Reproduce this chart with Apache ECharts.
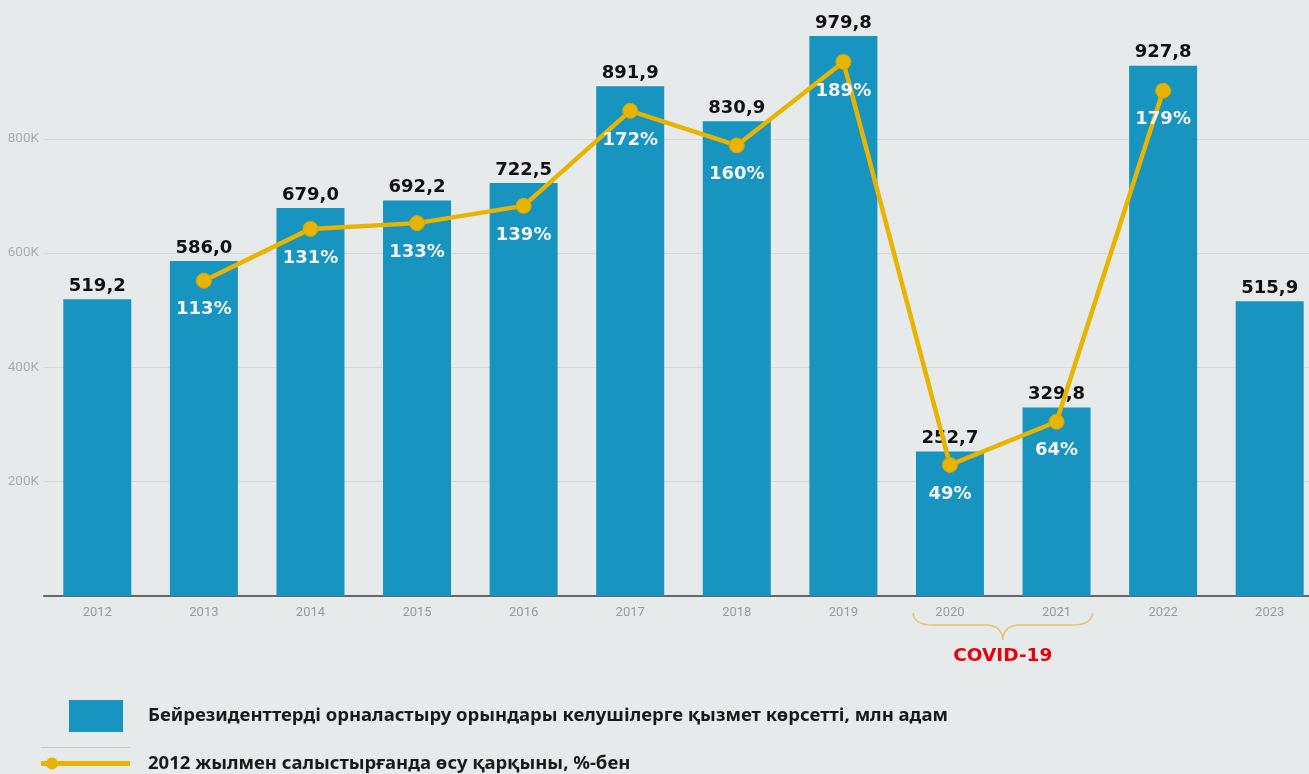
<!DOCTYPE html>
<html>
<head>
<meta charset="utf-8">
<script src="https://cdn.jsdelivr.net/npm/echarts@6/dist/echarts.min.js"></script>
<style>
html,body{margin:0;padding:0;background:#e6eaea;}
#chart{width:1309px;height:774px;}
</style>
</head>
<body>
<div id="chart"></div>
<script>
const years = ['2012','2013','2014','2015','2016','2017','2018','2019','2020','2021','2022','2023'];
const guests = [519.2, 586.0, 679.0, 692.2, 722.5, 891.9, 830.9, 979.8, 252.7, 329.8, 927.8, 515.9];
const growth = [null, 113, 131, 133, 139, 172, 160, 189, 49, 64, 179, null];
const yTicks = [200, 400, 600, 800];
const barName = 'Бейрезиденттерді орналастыру орындары келушілерге қызмет көрсетті, млн адам';
const lineName = '2012 жылмен салыстырғанда өсу қарқыны, %-бен';
const covidLabel = 'COVID-19';
const covidYears = ['2020', '2021'];

const chart = echarts.init(document.getElementById('chart'), null, {renderer: 'canvas'});
const legendText = {fontFamily: 'Noto Sans', fontWeight: 'bold', fontSize: 18.5, color: '#1a1a1a'};
const option = {
  backgroundColor: '#e6eaea',
  animation: false,
  textStyle: {fontFamily: 'DejaVu Sans, sans-serif'},
  grid: {left: 44, width: 1279, top: 24.5, bottom: 178, containLabel: false, outerBoundsMode: 'none'},
  legend: [
    {
      data: [{name: barName, icon: 'rect'}],
      left: 69, top: 700, padding: 0, itemWidth: 54, itemHeight: 32,
      textStyle: Object.assign({padding: [0, 0, 0, 20]}, legendText),
      selectedMode: false
    },
    {
      data: [{name: lineName, icon: 'path://M0,3.5L89,3.5L89,8.5L0,8.5Z M5,6a6,6 0 1,1 12,0a6,6 0 1,1 -12,0Z'}],
      left: 41, top: 754, padding: 0, itemWidth: 89, itemHeight: 12,
      itemStyle: {borderWidth: 0},
      textStyle: Object.assign({padding: [0, 0, 0, 13]}, legendText),
      selectedMode: false
    }
  ],
  xAxis: {
    type: 'category',
    data: years,
    axisLine: {lineStyle: {color: '#666', width: 2}},
    axisTick: {show: false},
    axisLabel: {color: '#9a9a9a', fontSize: 13, margin: 10, fontFamily: 'Roboto'}
  },
  yAxis: [
    {
      type: 'value', min: 0, max: 1000, interval: 200,
      axisLine: {show: false}, axisTick: {show: false},
      axisLabel: {color: '#acacac', fontSize: 13.5, margin: 5, showMinLabel: false, showMaxLabel: false, fontFamily: 'Roboto',
        formatter: v => yTicks.indexOf(v) >= 0 ? v + 'K' : ''},
      splitLine: {lineStyle: {color: '#d6dada', width: 1}, showMinLine: false, showMaxLine: false}
    },
    {
      type: 'value', min: 3.47, max: 202, show: false,
      splitLine: {show: false}
    }
  ],
  series: [
    {
      name: barName,
      type: 'bar',
      data: guests,
      barWidth: 68,
      itemStyle: {color: '#1794bf'},
      label: {
        show: true, position: 'top', distance: 4,
        color: '#111', fontWeight: 'bold', fontSize: 18, fontFamily: 'DejaVu Sans',
        formatter: p => p.value.toFixed(1).replace('.', ',')
      },
      z: 2
    },
    {
      name: lineName,
      type: 'line',
      yAxisIndex: 1,
      data: growth,
      connectNulls: false,
      lineStyle: {color: '#e8b400', width: 4.5},
      itemStyle: {color: '#e8b400', borderColor: '#d8a700', borderWidth: 1},
      symbol: 'circle',
      symbolSize: 15,
      label: {
        show: true, position: 'bottom', distance: 12,
        color: '#f2f4f4', fontWeight: 'bold', fontSize: 18, fontFamily: 'DejaVu Sans',
        formatter: p => p.value + '%'
      },
      z: 3
    }
  ]
};
chart.setOption(option);

// COVID brace annotation under the 2020–2021 categories
const x1 = chart.convertToPixel({xAxisIndex: 0}, covidYears[0]) - 37;
const x2 = chart.convertToPixel({xAxisIndex: 0}, covidYears[1]) + 36;
const xm = (x1 + x2) / 2;
const yt = 613, yh = 625, yb = 640;
const braceStyle = {stroke: '#e4c56c', lineWidth: 1.5, fill: null};
chart.setOption({
  graphic: [
    {type: 'bezierCurve', shape: {x1: x1, y1: yt, cpx1: x1 + 1, cpy1: yh, x2: x1 + 20, y2: yh}, style: braceStyle},
    {type: 'line', shape: {x1: x1 + 20, y1: yh, x2: xm - 17, y2: yh}, style: braceStyle},
    {type: 'bezierCurve', shape: {x1: xm - 17, y1: yh, cpx1: xm - 1, cpy1: yh, x2: xm, y2: yb}, style: braceStyle},
    {type: 'bezierCurve', shape: {x1: xm, y1: yb, cpx1: xm + 1, cpy1: yh, x2: xm + 17, y2: yh}, style: braceStyle},
    {type: 'line', shape: {x1: xm + 17, y1: yh, x2: x2 - 20, y2: yh}, style: braceStyle},
    {type: 'bezierCurve', shape: {x1: x2 - 20, y1: yh, cpx1: x2 - 1, cpy1: yh, x2: x2, y2: yt}, style: braceStyle},
    {type: 'text', x: xm, y: 656, style: {text: covidLabel, fill: '#e8000b', font: 'bold 18.5px "DejaVu Sans", sans-serif', align: 'center', verticalAlign: 'middle'}},
    {type: 'line', shape: {x1: 41, y1: 747.5, x2: 130, y2: 747.5}, style: {stroke: '#c8cccc', lineWidth: 1}}
  ]
});
</script>
</body>
</html>
